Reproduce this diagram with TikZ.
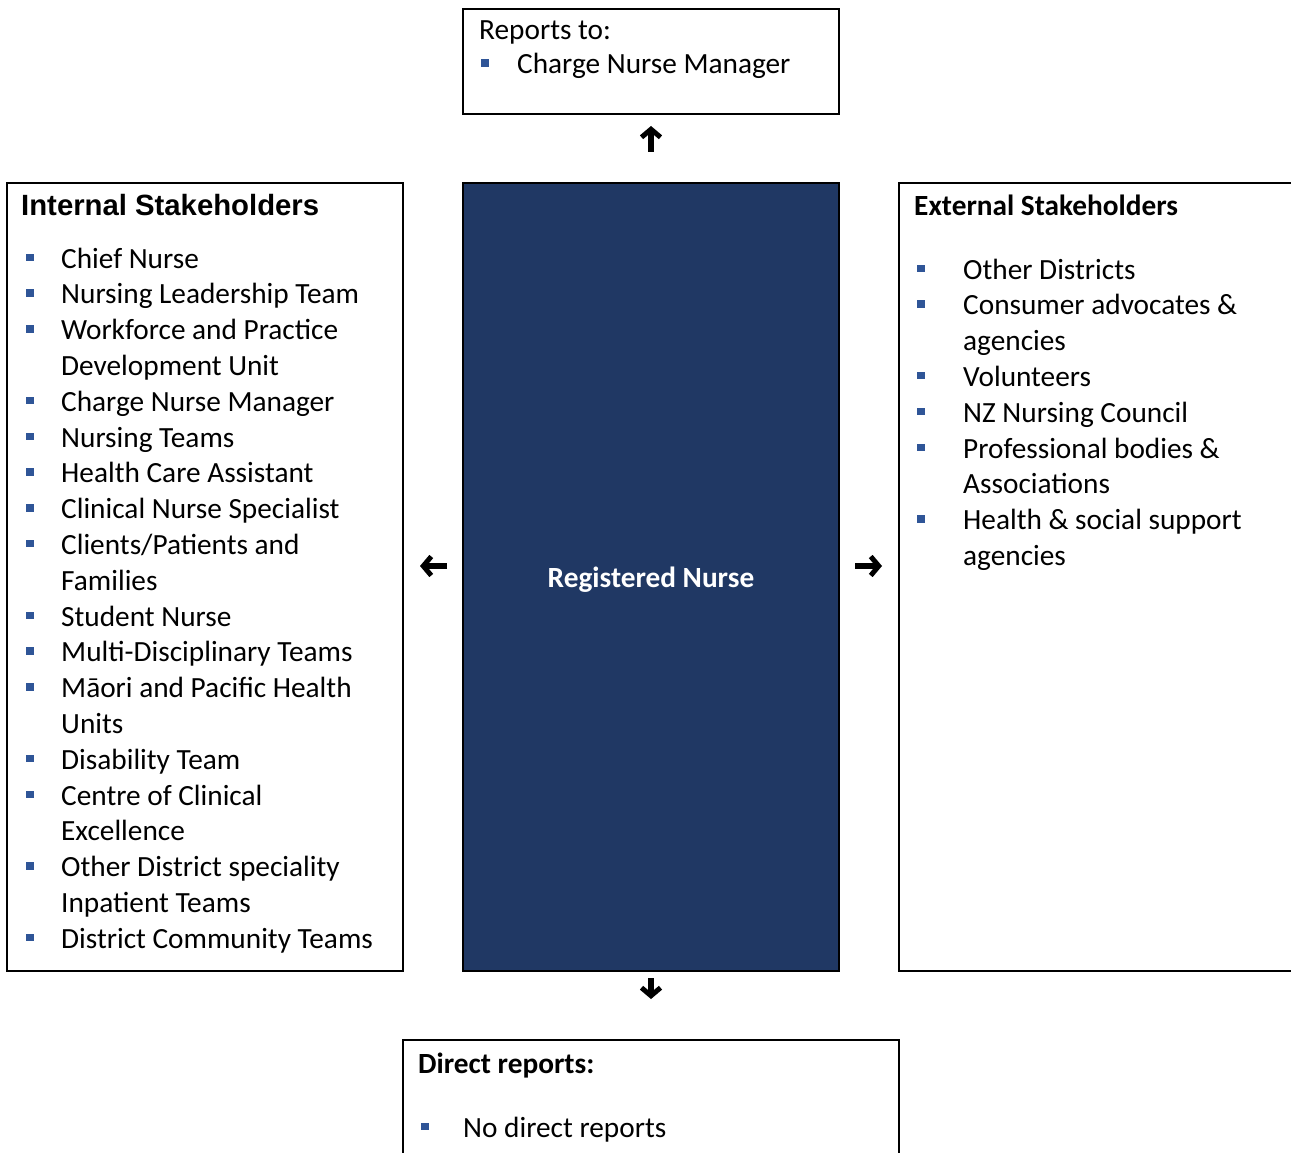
\documentclass[tikz,border=0pt]{standalone}
\usepackage{fontspec}
\setmainfont{Carlito}
\newfontfamily\headfont{Liberation Sans}
\usetikzlibrary{arrows.meta, positioning, calc}

\definecolor{rnnavy}{HTML}{203864}
\definecolor{bulletblue}{HTML}{2F5597}

\begin{document}
\begin{tikzpicture}[x=1pt, y=-1pt, line cap=butt, line join=miter]
	\def\lh{35.8}
	
	\tikzset{
		box/.style={draw, line width=2pt, outer sep=0pt, inner sep=0pt},
		txt/.style={anchor=base west, inner sep=0pt, font=\fontsize{29.3}{35.8}\selectfont},
		bigarrow/.style={line width=6.5pt, -{Straight Barb[length=8pt, width=19pt, line width=5pt]}}
	}
	
	\newcommand{\sq}{\textcolor{bulletblue}{\rule[7pt]{7.5pt}{7.5pt}}}
	\newcommand{\bitem}[3]{\makebox[#1][l]{\ifnum#2=1 \sq\fi}#3}
	
	\useasboundingbox (0,0) rectangle (1291,1153);
	\clip (0,0) rectangle (1291,1153);
	
	% boxes
	\node[box, minimum width=376pt, minimum height=105pt] (reports) at (651,61.5) {};
	\node[box, fill=rnnavy, minimum width=376pt, minimum height=788pt] (nurse) at (651,577) {};
	\node[box, minimum width=396pt, minimum height=788pt] (internal) at (205,577) {};
	\node[box, minimum width=410pt, minimum height=788pt] (external) at (1104,577) {};
	\node[box, minimum width=496pt, minimum height=140pt] (direct) at (651,1110) {};
	
	% texts
	\node[txt] (reports-head) at (479,40) {Reports to:};
	\node[txt] (reports-1) at (481,74) {\bitem{36pt}{1}{Charge Nurse Manager}};
	
	\node[txt, anchor=base, text=white, font=\fontsize{29.3}{35.8}\selectfont\bfseries] (nurse-label) at (651,587) {Registered Nurse};
	
	\node[txt, font=\fontsize{29.3}{35.8}\headfont\bfseries] (int-head) at (21,215) {Internal Stakeholders};
	\foreach \b/\t [count=\i] in {1/Chief Nurse, 1/Nursing Leadership Team, 1/Workforce and Practice,
		0/Development Unit, 1/Charge Nurse Manager, 1/Nursing Teams, 1/Health Care Assistant,
		1/Clinical Nurse Specialist, 1/{Clients/Patients and}, 0/Families, 1/Student Nurse,
		1/Multi-Disciplinary Teams, 1/Māori and Pacific Health, 0/Units, 1/Disability Team,
		1/Centre of Clinical, 0/Excellence, 1/Other District speciality, 0/Inpatient Teams,
		1/District Community Teams}
		\node[txt] (int-\i) at (26,{268+(\i-1)*\lh}) {\bitem{35pt}{\b}{\t}};
	
	\node[txt, font=\fontsize{29.3}{35.8}\selectfont\bfseries] (ext-head) at (914,215) {External Stakeholders};
	\foreach \b/\t [count=\i] in {1/Other Districts, 1/Consumer advocates \&, 0/agencies, 1/Volunteers,
		1/NZ Nursing Council, 1/Professional bodies \&, 0/Associations, 1/Health \& social support,
		0/agencies}
		\node[txt] (ext-\i) at (917,{279+(\i-1)*\lh}) {\bitem{46pt}{\b}{\t}};
	
	\node[txt, font=\fontsize{29.3}{35.8}\selectfont\bfseries] (direct-head) at (418,1073) {Direct reports:};
	\node[txt] (direct-1) at (421,1137) {\bitem{42pt}{1}{No direct reports}};
	
	% arrows
	\draw[bigarrow, shorten <=31pt, shorten >=12pt] (nurse.north) -- (reports.south);
	\draw[bigarrow, shorten <=16pt, shorten >=17pt] ([yshift=11pt]nurse.west) -- ([yshift=11pt]internal.east);
	\draw[bigarrow, shorten <=16pt, shorten >=17pt] ([yshift=11pt]nurse.east) -- ([yshift=11pt]external.west);
	\draw[bigarrow, shorten <=7pt, shorten >=41pt] (nurse.south) -- (direct.north);
	
\end{tikzpicture}
\end{document}
